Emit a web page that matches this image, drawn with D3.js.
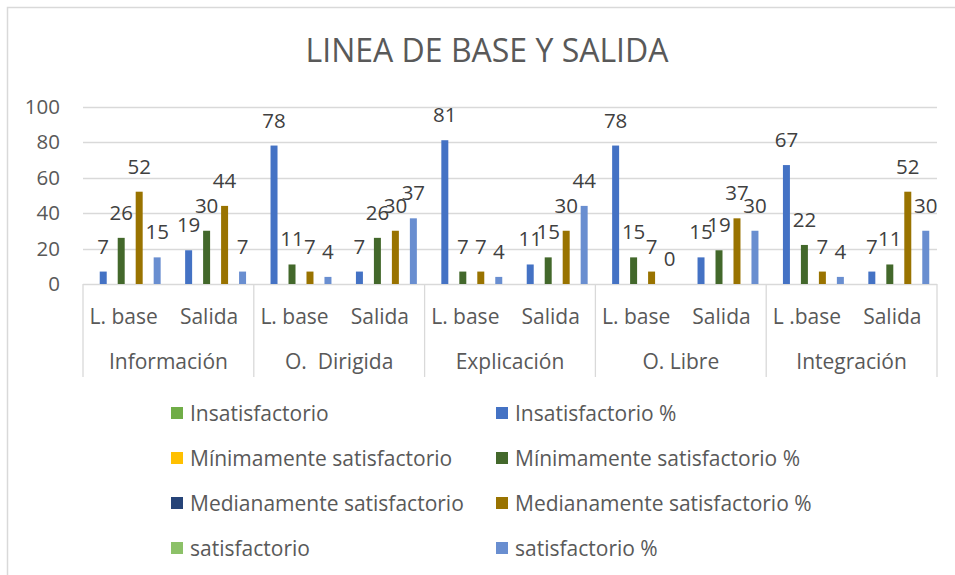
<!DOCTYPE html>
<html>
<head>
<meta charset="utf-8">
<script src="https://cdn.jsdelivr.net/npm/d3@7"></script>
<style>
  body { margin: 0; background: #fff; }
  text { font-family: "Open Sans", "Noto Sans", sans-serif; }
</style>
</head>
<body>
<svg width="955" height="575"></svg>
<script>
const svg = d3.select("svg"),
    width = +svg.attr("width"),
    height = +svg.attr("height");

// data
const groups = ["Información", "O.  Dirigida", "Explicación", "O. Libre", "Integración"];
const categories = ["L. base", "Salida", "L. base", "Salida", "L. base", "Salida", "L. base", "Salida", "L .base", "Salida"];

const insatPct = [7, 19, 78, 7, 81, 11, 78, 15, 67, 7];
const minPct   = [26, 30, 11, 26, 7, 15, 15, 19, 22, 11];
const medPct   = [52, 44, 7, 30, 7, 30, 7, 37, 7, 52];
const satPct   = [15, 7, 4, 37, 4, 44, 0, 30, 4, 30];

const yTicks = [0, 20, 40, 60, 80, 100];

// series in legend order (count series have no visible bars)
const seriesNames = [
  "Insatisfactorio", "Insatisfactorio %",
  "Mínimamente satisfactorio", "Mínimamente satisfactorio %",
  "Medianamente satisfactorio", "Medianamente satisfactorio %",
  "satisfactorio", "satisfactorio %"
];
const seriesColors = ["#70ad47", "#4472c4", "#ffc000", "#43682b", "#264478", "#997300", "#8cc168", "#698ed0"];
const seriesValues = [null, insatPct, null, minPct, null, medPct, null, satPct];

const margin = {left: 83, right: 18, top: 106.5, bottom: 291};
const plotW = width - margin.left - margin.right;
const y0 = height - margin.bottom;

// frame
svg.append("rect")
    .attr("x", 7.5).attr("y", 7.5)
    .attr("width", width + 10).attr("height", height + 10)
    .attr("fill", "none")
    .attr("stroke", "#d9d9d9")
    .attr("stroke-width", 1.5)

svg.append("text")
    .attr("x", 487).attr("y", 62)
    .attr("text-anchor", "middle")
    .attr("font-size", 32)
    .attr("fill", "#595959")
    .text("LINEA DE BASE Y SALIDA")

const x = d3.scaleBand()
    .domain(d3.range(categories.length))
    .range([margin.left, margin.left + plotW])
    .padding(0)

const xs = d3.scaleBand()
    .domain(seriesNames)
    .range([0, x.bandwidth()])
    .paddingInner(0)
    .paddingOuter(0.75)

const y = d3.scaleLinear()
    .domain([0, 100])
    .range([y0, margin.top])

// gridlines
svg.append("g")
    .selectAll("line")
    .data(yTicks)
    .join("line")
      .attr("x1", margin.left).attr("x2", margin.left + plotW)
      .attr("y1", d => Math.round(y(d)) + 0.5).attr("y2", d => Math.round(y(d)) + 0.5)
      .attr("stroke", "#d9d9d9")
      .attr("stroke-width", 1.3)

svg.append("g")
    .selectAll("text")
    .data(yTicks)
    .join("text")
      .attr("x", 60).attr("y", d => y(d) + 7)
      .attr("text-anchor", "end")
      .attr("font-size", 20.5)
      .attr("fill", "#595959")
      .text(d => d)

// bars + labels
seriesValues.forEach(function(vals, s){
  if (!vals) return;
  const g = svg.append("g");
  g.selectAll("rect")
    .data(vals)
    .join("rect")
      .attr("x", (d, i) => x(i) + xs(seriesNames[s]) + 1)
      .attr("width", xs.bandwidth() - 2)
      .attr("y", d => y(d))
      .attr("height", d => y(0) - y(d))
      .attr("fill", seriesColors[s])
  g.selectAll("text")
    .data(vals)
    .join("text")
      .attr("x", (d, i) => x(i) + xs(seriesNames[s]) + xs.bandwidth() / 2)
      .attr("y", d => y(d) - 18)
      .attr("text-anchor", "middle")
      .attr("font-size", 20.5)
      .attr("fill", "#404040")
      .text(d => d)
})

// category axis with two tiers
const groupW = plotW / groups.length;
svg.append("g")
    .selectAll("line")
    .data(d3.range(groups.length + 1))
    .join("line")
      .attr("x1", d => margin.left + d * groupW).attr("x2", d => margin.left + d * groupW)
      .attr("y1", y0).attr("y2", 377)
      .attr("stroke", "#d9d9d9")
      .attr("stroke-width", 1.3)

svg.append("g")
    .selectAll("text")
    .data(categories)
    .join("text")
      .attr("x", (d, i) => x(i) + x.bandwidth() / 2 - 2)
      .attr("y", 324)
      .attr("text-anchor", "middle")
      .attr("font-size", 21)
      .attr("fill", "#595959")
      .text(d => d)

svg.append("g")
    .selectAll("text")
    .data(groups)
    .join("text")
      .attr("x", (d, i) => margin.left + (i + 0.5) * groupW)
      .attr("y", 369)
      .attr("text-anchor", "middle")
      .attr("font-size", 21)
      .attr("fill", "#595959")
      .style("white-space", "pre")
      .text(d => d)

// legend: two columns, counts left, percentages right
const legend = svg.append("g")
    .selectAll("g")
    .data(seriesNames)
    .join("g")
      .attr("transform", (d, i) => `translate(${i % 2 ? 496 : 171},${413 + Math.floor(i / 2) * 45})`)

legend.append("rect")
    .attr("x", 0).attr("y", -6)
    .attr("width", 12).attr("height", 12)
    .attr("fill", (d, i) => seriesColors[i])

legend.append("text")
    .attr("x", 19).attr("y", 7.5)
    .attr("font-size", 21)
    .attr("fill", "#595959")
    .text(d => d)
</script>
</body>
</html>
